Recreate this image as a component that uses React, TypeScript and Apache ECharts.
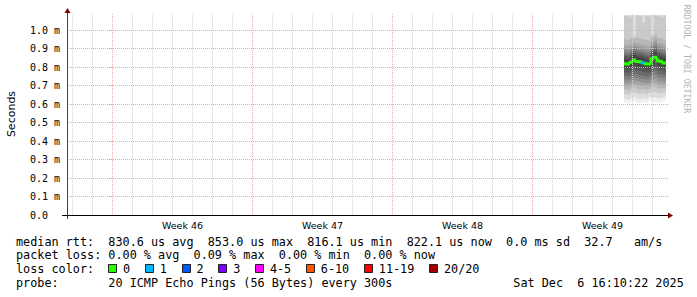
import React, { useEffect, useRef } from "react";
import * as echarts from "echarts";

const W = 697;
const H = 297;

// x: days since Sun 9 Nov 2025 00:00 ; y: milliseconds
const xMin = -2.275;
const xMax = 27.825;
const yMax = 1.092;

const yTickValues = [0, 0.1, 0.2, 0.3, 0.4, 0.5, 0.6, 0.7, 0.8, 0.9, 1.0];
const weekStartDays = [0, 7, 14, 21];
const weekLabelDays = [3.5, 10.5, 17.5, 24.5];
const weekLabels = ["Week 46", "Week 47", "Week 48", "Week 49"];
const dayLineDays = [-2, -1, 0, 1, 2, 3, 4, 5, 6, 7, 8, 9, 10, 11, 12, 13, 14, 15, 16, 17, 18, 19, 20, 21, 22, 23, 24, 25, 26, 27];

const stepDays = 0.15;
const sampleDays = [25.55, 25.7, 25.85, 26.0, 26.15, 26.3, 26.45, 26.6, 26.75, 26.9, 27.05, 27.2, 27.35, 27.5];
const medianMs = [0.818, 0.816, 0.826, 0.838, 0.83, 0.828, 0.823, 0.817, 0.816, 0.845, 0.853, 0.834, 0.83, 0.822];
const lossCount = [0, 0, 0, 0, 0, 0, 1, 0, 0, 0, 0, 0, 0, 0];
// 20 sorted ping round-trip times (ms) for each step
const pingsMs = [
  [0.608, 0.628, 0.655, 0.679, 0.697, 0.716, 0.734, 0.752, 0.772, 0.792, 0.844, 0.858, 0.87, 0.884, 0.899, 0.918, 0.95, 1.078, 1.081, 1.081],
  [0.603, 0.622, 0.65, 0.676, 0.695, 0.713, 0.731, 0.75, 0.77, 0.79, 0.842, 0.856, 0.867, 0.88, 0.896, 0.915, 0.945, 1.075, 1.081, 1.081],
  [0.612, 0.633, 0.66, 0.684, 0.703, 0.721, 0.74, 0.758, 0.778, 0.8, 0.852, 0.865, 0.877, 0.89, 0.905, 0.924, 0.956, 1.07, 1.081, 1.081],
  [0.615, 0.637, 0.664, 0.69, 0.709, 0.728, 0.747, 0.766, 0.788, 0.812, 0.864, 0.876, 0.887, 0.899, 0.913, 0.93, 0.955, 0.965, 1.081, 1.081],
  [0.607, 0.63, 0.658, 0.684, 0.704, 0.723, 0.742, 0.761, 0.781, 0.804, 0.856, 0.869, 0.88, 0.893, 0.908, 0.927, 0.958, 1.08, 1.081, 1.081],
  [0.604, 0.626, 0.654, 0.68, 0.7, 0.719, 0.738, 0.757, 0.778, 0.801, 0.855, 0.867, 0.878, 0.891, 0.906, 0.924, 0.952, 1.076, 1.081, 1.081],
  [0.61, 0.63, 0.657, 0.681, 0.699, 0.717, 0.735, 0.753, 0.773, 0.796, 0.85, 0.863, 0.874, 0.887, 0.902, 0.92, 0.95, 1.04, 1.081, 1.081],
  [0.606, 0.626, 0.652, 0.677, 0.696, 0.714, 0.732, 0.75, 0.77, 0.791, 0.843, 0.857, 0.868, 0.882, 0.897, 0.916, 0.947, 1.078, 1.081, 1.081],
  [0.618, 0.636, 0.66, 0.682, 0.699, 0.716, 0.733, 0.751, 0.77, 0.79, 0.842, 0.855, 0.866, 0.879, 0.894, 0.913, 0.944, 1.072, 1.081, 1.081],
  [0.613, 0.636, 0.664, 0.692, 0.713, 0.733, 0.753, 0.773, 0.795, 0.818, 0.872, 0.884, 0.895, 0.907, 0.921, 0.938, 0.962, 0.972, 1.081, 1.081],
  [0.609, 0.634, 0.664, 0.694, 0.716, 0.737, 0.758, 0.779, 0.802, 0.826, 0.88, 0.892, 0.903, 0.915, 0.93, 0.948, 0.975, 1.079, 1.081, 1.081],
  [0.605, 0.629, 0.657, 0.684, 0.705, 0.725, 0.745, 0.764, 0.785, 0.807, 0.861, 0.874, 0.885, 0.898, 0.913, 0.931, 0.96, 1.077, 1.081, 1.081],
  [0.611, 0.632, 0.659, 0.685, 0.705, 0.724, 0.743, 0.762, 0.782, 0.804, 0.856, 0.869, 0.88, 0.893, 0.908, 0.927, 0.955, 1.07, 1.081, 1.081],
  [0.62, 0.638, 0.662, 0.685, 0.703, 0.72, 0.738, 0.756, 0.775, 0.796, 0.848, 0.861, 0.872, 0.885, 0.9, 0.919, 0.949, 1.078, 1.081, 1.081],
];

const lossLegendLabels = ["0", "1", "2", "3", "4-5", "6-10", "11-19", "20/20"];
const lossLegendColors = ["#26ff00", "#00b8ff", "#0059ff", "#7e00ff", "#ff00ff", "#ff5500", "#ff0000", "#a10000"];
const lossUpperBounds = [0, 1, 2, 3, 5, 10, 19, 20];

const rttStatNames = ["avg", "max", "min", "now"];
const rttStatValuesUs = [830.6, 853.0, 816.1, 822.1];
const rttSdMs = 0.0;
const rttAmS = 32.7;
const lossStatValuesPct = [0.0, 0.09, 0.0, 0.0];
const probeText = "20 ICMP Echo Pings (56 Bytes) every 300s";
const dateText = "Sat Dec  6 16:10:22 2025";
const watermarkText = "RRDTOOL / TOBI OETIKER";

// layout
const GL = 67;
const GR = 669;
const GT = 13;
const GB = 215;
const MONO = "'DejaVu Sans Mono', monospace";
const SANS = "'DejaVu Sans', sans-serif";
const LEG_FS = 11.8;
const CH = LEG_FS * 0.6021;
const LINE_Y = [241.5, 255.2, 268.9, 282.6];
const MINOR = "#d0d0d0";
const MAJOR = "#f0a6a6";
const ARROW = "#7f0000";

function lossColor(n: number) {
  for (let i = 0; i < lossUpperBounds.length; i++) if (n <= lossUpperBounds[i]) return lossLegendColors[i];
  return lossLegendColors[lossLegendColors.length - 1];
}
function smokeGray(k: number) {
  const v = Math.floor((190 / 10) * (10 - k)) + 50;
  const h = v.toString(16).padStart(2, "0");
  return "#" + h + h + h;
}

function buildOption() {
  const rttLine =
    "median rtt:  " +
    rttStatValuesUs.map((v, i) => `${v.toFixed(1)} us ${rttStatNames[i]}`).join("  ") +
    `  ${rttSdMs.toFixed(1)} ms sd  ${rttAmS.toFixed(1)}   am/s`;
  const lossLine =
    "packet loss: " + lossStatValuesPct.map((v, i) => `${v.toFixed(2)} % ${rttStatNames[i]}`).join("  ");
  const probeLine = "probe:       " + probeText;

  const graphics: any[] = [];
  const txt = (x: number, y: number, s: string, extra: any = {}) =>
    graphics.push({
      type: "text",
      x,
      y,
      silent: true,
      style: { text: s, fill: "#000", font: `${LEG_FS}px ${MONO}`, verticalAlign: "middle", align: "left", ...extra },
    });
  txt(16, LINE_Y[0], rttLine);
  txt(16, LINE_Y[1], lossLine);
  txt(16, LINE_Y[2], "loss color:");
  let cur = 16 + 13 * CH;
  lossLegendLabels.forEach((lab, i) => {
    graphics.push({
      type: "rect",
      silent: true,
      shape: { x: Math.round(cur) + 0.5, y: Math.round(LINE_Y[2] - 4.5) + 0.5, width: 8, height: 8 },
      style: { fill: lossLegendColors[i], stroke: "#222", lineWidth: 1 },
    });
    txt(cur + 14.7, LINE_Y[2], lab);
    cur = cur + 14.7 + lab.length * CH + 14.9;
  });
  txt(16, LINE_Y[3], probeLine);
  txt(513.3, LINE_Y[3], dateText);

  graphics.push({
    type: "text",
    x: 687,
    y: 59,
    rotation: -Math.PI / 2,
    silent: true,
    style: { text: watermarkText, fill: "#b4b4b4", font: `8.2px ${MONO}`, align: "center", verticalAlign: "middle" },
  });
  // axis lines with rrdtool overhang
  graphics.push({ type: "line", silent: true, z: 50, shape: { x1: GL - 5, y1: GB + 0.5, x2: GR, y2: GB + 0.5 }, style: { stroke: "#000", lineWidth: 1 } });
  graphics.push({ type: "line", silent: true, z: 50, shape: { x1: GL + 0.5, y1: GB + 4, x2: GL + 0.5, y2: GT - 1 }, style: { stroke: "#2c4d43", lineWidth: 1 } });
  graphics.push({ type: "polygon", silent: true, z: 50, shape: { points: [[GL + 0.5, 8], [GL - 2.5, 13], [GL + 3.5, 13]] }, style: { fill: ARROW } });
  graphics.push({ type: "polygon", silent: true, z: 50, shape: { points: [[GR - 1, GB - 2.5], [GR + 4, GB + 0.5], [GR - 1, GB + 3.5]] }, style: { fill: ARROW } });

  const gridLines: any[] = [];
  dayLineDays
    .filter((d) => !weekStartDays.includes(d))
    .forEach((d) => gridLines.push({ xAxis: d, lineStyle: { color: MINOR, type: [1, 1], width: 1 } }));
  weekStartDays.forEach((d) => gridLines.push({ xAxis: d, lineStyle: { color: MAJOR, type: [1, 1], width: 1 } }));
  yTickValues
    .filter((v) => v > 0)
    .forEach((v) => gridLines.push({ yAxis: v, lineStyle: { color: MAJOR, type: [1, 1], width: 1 } }));

  const seriesData = sampleDays.map((t, i) => [t, medianMs[i]]);

  return {
    animation: false,
    backgroundColor: "#fff",
    grid: { left: GL, right: W - GR, top: GT, bottom: H - GB, containLabel: false, outerBoundsMode: "none" },
    xAxis: {
      type: "value",
      min: xMin,
      max: xMax,
      axisLine: { show: false },
      splitLine: { show: false },
      axisTick: { show: false },
      axisLabel: {
        customValues: weekLabelDays,
        formatter: (v: number) => {
          const i = weekLabelDays.findIndex((d) => Math.abs(d - v) < 1e-6);
          return i >= 0 ? weekLabels[i] : "";
        },
        fontFamily: SANS,
        fontSize: 9.5,
        color: "#000",
        margin: 5,
      },
    },
    yAxis: {
      type: "value",
      min: 0,
      max: yMax,
      name: "Seconds",
      nameLocation: "middle",
      nameGap: 50,
      nameTextStyle: { fontFamily: SANS, fontSize: 11, color: "#000" },
      axisLine: { show: false },
      splitLine: { show: false },
      axisTick: { show: true, customValues: yTickValues.filter((v) => v > 0), length: 3, lineStyle: { color: MAJOR } },
      axisLabel: {
        customValues: yTickValues,
        formatter: (v: number) => (Math.abs(v) < 1e-9 ? "0.0  " : `${v.toFixed(1)} m`),
        fontFamily: MONO,
        fontSize: 10,
        color: "#000",
        margin: 7,
      },
    },
    graphic: graphics,
    series: [
      {
        type: "custom",
        z: 2,
        silent: true,
        clip: true,
        data: seriesData,
        encode: { x: 0, y: 1 },
        renderItem: (params: any, api: any) => {
          const i = params.dataIndex;
          const t = sampleDays[i];
          const x0 = Math.round(api.coord([t, 0])[0]);
          const x1 = Math.round(api.coord([t + stepDays, 0])[0]);
          const p = pingsMs[i];
          const n = p.length;
          const children: any[] = [];
          for (let k = 0; k < n / 2; k++) {
            const lo = p[k];
            const hi = p[n - 1 - k];
            const yLo = api.coord([t, lo])[1];
            const yHi = api.coord([t, hi])[1];
            children.push({
              type: "rect",
              shape: { x: x0, y: yHi, width: x1 - x0, height: Math.max(0, yLo - yHi) },
              style: { fill: smokeGray(k) },
            });
          }
          return { type: "group", children };
        },
      },
      {
        type: "line",
        z: 3,
        silent: true,
        data: [],
        markLine: { silent: true, symbol: ["none", "none"], label: { show: false }, animation: false, data: gridLines },
      },
      {
        type: "custom",
        z: 4,
        silent: true,
        data: seriesData,
        encode: { x: 0, y: 1 },
        renderItem: (params: any, api: any) => {
          const i = params.dataIndex;
          const t = sampleDays[i];
          const x0 = Math.round(api.coord([t, 0])[0]);
          const x1 = Math.round(api.coord([t + stepDays, 0])[0]);
          const y = api.coord([t, medianMs[i]])[1];
          const yPrev = i > 0 ? api.coord([t, medianMs[i - 1]])[1] : y;
          return {
            type: "polyline",
            shape: { points: [[x0, yPrev], [x0, y], [x1, y]] },
            style: { stroke: lossColor(lossCount[i]), lineWidth: 3, fill: "none" },
          };
        },
      },
    ],
  };
}

export default function App() {
  const ref = useRef<HTMLDivElement>(null);
  useEffect(() => {
    if (!ref.current) return;
    const chart = echarts.init(ref.current, null, { renderer: "svg" });
    chart.setOption(buildOption() as any);
    return () => chart.dispose();
  }, []);
  return <div ref={ref} style={{ position: "fixed", left: 0, top: 0, width: W, height: H, background: "#fff" }} />;
}
